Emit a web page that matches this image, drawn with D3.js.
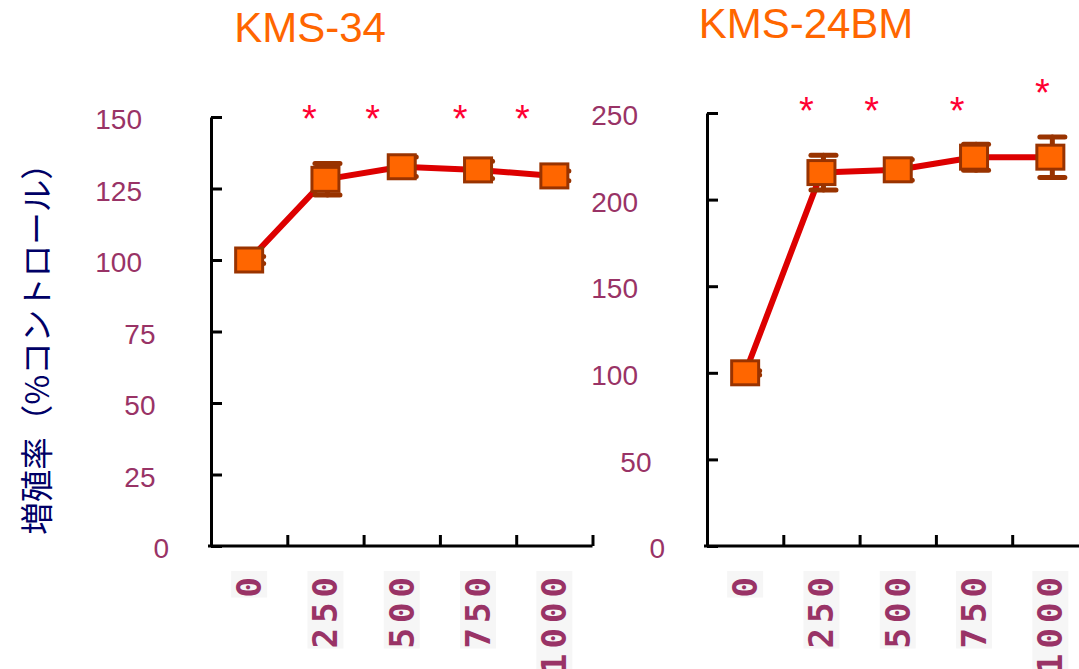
<!DOCTYPE html>
<html>
<head>
<meta charset="utf-8">
<script src="https://cdn.jsdelivr.net/npm/d3@7"></script>
<style>
  html, body { margin: 0; padding: 0; background: #ffffff; }
  svg { display: block; }
</style>
</head>
<body>
<svg id="chart" width="1079" height="669"></svg>
<script>
// Doses (x categories) shared by both cell lines
const categories = ["0", "250", "500", "750", "1000"];

// KMS-34: proliferation (% of control), mean and error
const kms34Mean = [100, 128.2, 132.6, 131.5, 129.4];
const kms34Err  = [1.2, 5.5, 3.4, 3.0, 1.7];
const kms34Ticks = [0, 25, 50, 75, 100, 125, 150];
const kms34StarLevel = [null, 152, 152, 152, 152];

// KMS-24BM: proliferation (% of control), mean and error
const kms24Mean = [100, 215.6, 217.2, 224.5, 224.5];
const kms24Err  = [1.2, 10, 6, 7.5, 11.7];
const kms24Ticks = [0, 50, 100, 150, 200, 250];
const kms24StarLevel = [null, 256, 256, 256, 266];

const yAxisTitle = "増殖率（%コントロール）";

// Panel layout
const panels = [
  { title: "KMS-34", mean: kms34Mean, err: kms34Err, ticks: kms34Ticks,
    stars: kms34StarLevel, yMax: 150, axisX: 211, top: 117, bottom: 546,
    titleY: 42, starDx: [0, -16, -29, -18, -32] },
  { title: "KMS-24BM", mean: kms24Mean, err: kms24Err, ticks: kms24Ticks,
    stars: kms24StarLevel, yMax: 250, axisX: 707, top: 113, bottom: 546,
    titleY: 38, starDx: [0, -15, -26, -17, -8] }
];

const BAND = 76.3;
const C = {
  title: "#ff6600",
  tick: "#993366",
  axisTitle: "#000066",
  line: "#dd0000",
  markerFill: "#ff6600",
  markerStroke: "#993300",
  star: "#ff0033"
};

const svg = d3.select("#chart");

// Shared y-axis title
svg.append("text")
  .attr("transform", "translate(34,341) rotate(-90)")
  .attr("text-anchor", "middle")
  .attr("dominant-baseline", "central")
  .attr("font-family", "'Noto Sans CJK JP', sans-serif")
  .attr("font-size", 32.5)
  .attr("fill", C.axisTitle)
  .text(yAxisTitle);

panels.forEach(p => {
  const g = svg.append("g");
  const x = d3.scaleBand().domain(categories)
    .range([p.axisX, p.axisX + BAND * categories.length]).padding(0);
  const xEdge = d3.scaleLinear().domain([0, categories.length])
    .range([p.axisX, p.axisX + BAND * categories.length]);
  const y = d3.scaleLinear().domain([0, p.yMax]).range([p.bottom, p.top]);
  const cx = d => x(d) + x.bandwidth() / 2;

  // Title
  g.append("text")
    .attr("x", p.axisX + 99).attr("y", p.titleY)
    .attr("text-anchor", "middle")
    .attr("font-family", "'Liberation Sans', Arial, sans-serif")
    .attr("font-size", 42)
    .attr("fill", C.title)
    .text(p.title);

  // X axis with ticks on category boundaries
  const xAxis = g.append("g")
    .attr("transform", `translate(0,${p.bottom})`)
    .call(d3.axisBottom(xEdge)
      .tickValues(d3.range(1, categories.length + 1))
      .tickSizeInner(-11).tickSizeOuter(0)
      .tickFormat(""));
  xAxis.select(".domain")
    .attr("d", `M${p.axisX - 3},0H${xEdge.range()[1]}`)
    .attr("stroke", "#000").attr("stroke-width", 3);
  xAxis.selectAll(".tick line").attr("stroke", "#000").attr("stroke-width", 3);

  // Y axis, ticks pointing inward
  const yAxis = g.append("g")
    .attr("transform", `translate(${p.axisX},0)`)
    .call(d3.axisLeft(y).tickValues(p.ticks).tickSizeInner(-11).tickSizeOuter(0));
  yAxis.select(".domain").attr("stroke", "#000").attr("stroke-width", 3);
  yAxis.selectAll(".tick line").attr("stroke", "#000").attr("stroke-width", 3);
  yAxis.selectAll(".tick text")
    .attr("x", d => -69 + (3 - String(d).length) * 13.5)
    .attr("dy", "0.42em")
    .attr("text-anchor", "end")
    .attr("font-family", "'Liberation Sans', Arial, sans-serif")
    .attr("font-size", 28)
    .attr("fill", C.tick);

  // X tick labels: rotated, on a pale backing
  const lab = g.append("g").selectAll("g").data(categories).join("g")
    .attr("transform", d => `translate(${cx(d)},571)`);
  lab.append("rect")
    .attr("x", -18).attr("y", 0).attr("width", 36)
    .attr("height", d => d.length * 25.5 + 1)
    .attr("fill", "#f6f6f6");
  lab.append("text")
    .attr("transform", "rotate(-90)")
    .attr("x", -1).attr("y", 0)
    .attr("text-anchor", "end")
    .attr("dominant-baseline", "central")
    .attr("font-family", "'DejaVu Sans Mono', monospace")
    .attr("font-weight", "bold")
    .attr("font-size", 34)
    .attr("letter-spacing", 5)
    .attr("fill", C.tick)
    .text(d => d);

  // Connecting line
  const pts = categories.map((c, i) => [cx(c), y(p.mean[i])]);
  g.append("path")
    .attr("d", d3.line()(pts))
    .attr("fill", "none")
    .attr("stroke", C.line).attr("stroke-width", 6)
    .attr("stroke-linejoin", "round");

  // Error bars
  const eb = g.append("g").selectAll("g").data(categories).join("g")
    .attr("stroke", C.markerStroke).attr("stroke-width", 5)
    .attr("stroke-linecap", "round");
  eb.append("line")
    .attr("x1", d => cx(d) + 2).attr("x2", d => cx(d) + 2)
    .attr("y1", (d, i) => y(p.mean[i] + p.err[i]))
    .attr("y2", (d, i) => y(p.mean[i] - p.err[i]));
  [1, -1].forEach(s => {
    eb.append("line")
      .attr("x1", d => cx(d) - 10.5).attr("x2", d => cx(d) + 14.5)
      .attr("y1", (d, i) => y(p.mean[i] + s * p.err[i]))
      .attr("y2", (d, i) => y(p.mean[i] + s * p.err[i]));
  });

  // Square markers
  g.append("g").selectAll("rect").data(categories).join("rect")
    .attr("x", d => cx(d) - 13.5)
    .attr("y", (d, i) => y(p.mean[i]) - 12)
    .attr("width", 27).attr("height", 24)
    .attr("fill", C.markerFill)
    .attr("stroke", C.markerStroke).attr("stroke-width", 3);

  // Significance asterisks
  g.append("g").selectAll("text")
    .data(categories.map((c, i) => ({ c, i, v: p.stars[i] })).filter(d => d.v != null))
    .join("text")
    .attr("x", d => cx(d.c) + p.starDx[d.i])
    .attr("y", d => y(d.v) + 21)
    .attr("text-anchor", "middle")
    .attr("font-family", "'Liberation Sans', Arial, sans-serif")
    .attr("font-size", 38)
    .attr("fill", C.star)
    .text("*");
});
</script>
</body>
</html>
